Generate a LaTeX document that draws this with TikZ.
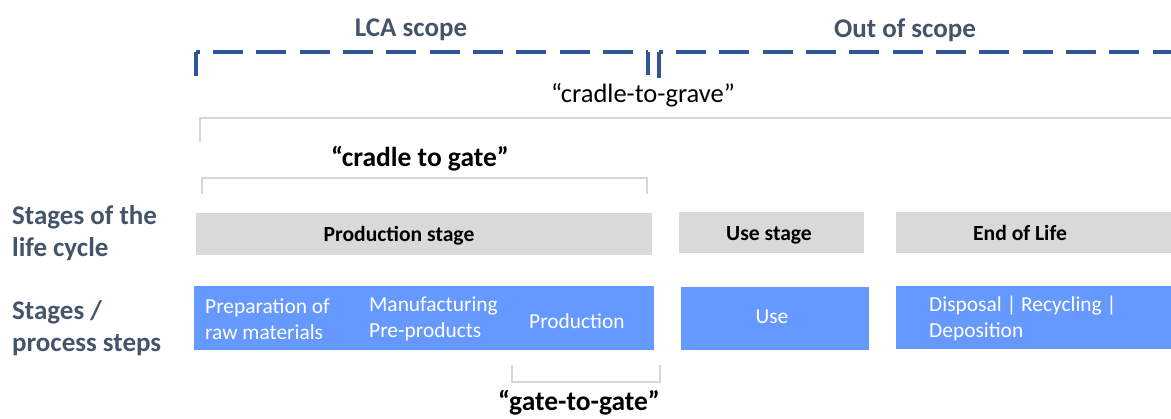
\documentclass[tikz,border=0pt]{standalone}
\usepackage{fontspec}
\setmainfont{Carlito}
\usetikzlibrary{positioning}
\definecolor{slate}{HTML}{44546A}
\definecolor{scopeblue}{HTML}{2F5597}
\definecolor{stagegray}{HTML}{D9D9D9}
\definecolor{stepblue}{HTML}{6699FF}
\definecolor{rangegray}{HTML}{D6D6D6}

\begin{document}
\begin{tikzpicture}
[
    x=1pt, y=-1pt,
    heading/.style={font=\fontsize{27}{30}\selectfont\bfseries, text=slate, inner sep=0pt},
    rowlabel/.style={font=\fontsize{27}{32}\selectfont\bfseries, text=slate, align=left, anchor=west, inner sep=0pt},
    stagebox/.style={fill=stagegray, anchor=north west, inner sep=0pt},
    stagetext/.style={font=\fontsize{21.6}{24}\selectfont\bfseries, inner sep=0pt},
    stepbox/.style={fill=stepblue, anchor=north west, inner sep=0pt},
    steptext/.style={text=white, font=\fontsize{21.4}{26}\selectfont, align=left, inner sep=0pt},
    scopeline/.style={draw=scopeblue, line width=3.5pt},
    scopedash/.style={scopeline, dash pattern=on 30pt off 13.33pt, dash phase=26.33pt},
    rangeline/.style={draw=rangegray, line width=1.3pt},
    quote/.style={font=\fontsize{26.5}{30}\selectfont, inner sep=0pt},
    boldquote/.style={font=\fontsize{27.5}{30}\selectfont\bfseries, inner sep=0pt},
]
\useasboundingbox (0,0) rectangle (1171,419);

\node [heading] (lca) at (411,30) {LCA scope};
\node [heading] (out) at (905,30) {Out of scope};

\coordinate (lcaA) at (196,76);
\coordinate (lcaB) at (196,52);
\coordinate (lcaC) at (648,52);
\coordinate (lcaD) at (648,75);
\draw [scopeline] (lcaA) -- (lcaB);
\draw [scopedash] (lcaB) -- (lcaC);
\draw [scopeline] (lcaC) -- (lcaD);

\coordinate (outA) at (659,78);
\coordinate (outB) at (659,52);
\coordinate (outC) at (1171,52);
\draw [scopeline] (outA) -- (outB);
\draw [scopedash] (outB) -- (outC);

\node [quote] (grave) at (643,95) {“cradle-to-grave”};
\coordinate (graveA) at (200,142);
\coordinate (graveB) at (200,118);
\coordinate (graveC) at (1171,118);
\draw [rangeline] (graveA) -- (graveB) -- (graveC);

\node [boldquote] (gate) at (420,159) {“cradle to gate”};
\coordinate (gateA) at (202,194);
\coordinate (gateB) at (202,178);
\coordinate (gateC) at (647,178);
\coordinate (gateD) at (647,194);
\draw [rangeline] (gateA) -- (gateB) -- (gateC) -- (gateD);

\node [rowlabel] (lifecycle) at (12,233) {Stages of the\\life cycle};
\node [rowlabel] (steps) at (12,328) {Stages /\\process steps};

\node [stagebox, minimum width=456pt, minimum height=42pt] (prodstage) at (196,213) {};
\node [stagetext] (prodlabel) at (399,236) {Production stage};
\node [stagebox, minimum width=185pt, minimum height=41pt] (usestage) at (679,212) {};
\node [stagetext] (uselabel) at (769,235) {Use stage};
\node [stagebox, minimum width=275pt, minimum height=41pt] (eolstage) at (896,212) {};
\node [stagetext] (eollabel) at (1020,233) {End of Life};

\node [stepbox, minimum width=460pt, minimum height=64pt] (prodsteps) at (194,286) {};
\node [steptext, anchor=west] (prep) at (205,319) {Preparation of\\raw materials};
\node [steptext, anchor=west] (manuf) at (369,319) {Manufacturing\\Pre-products};
\node [steptext, anchor=west] (prod) at (529,321) {Production};
\node [stepbox, minimum width=188pt, minimum height=63pt] (usesteps) at (681,287) {};
\node [steptext] (use) at (772,317) {Use};
\node [stepbox, minimum width=275pt, minimum height=63pt] (eolsteps) at (896,286) {};
\node [steptext, anchor=west] (disposal) at (929,318) {Disposal | Recycling |\\Deposition};

\coordinate (ggA) at (512,365);
\coordinate (ggB) at (512,382);
\coordinate (ggC) at (660,382);
\coordinate (ggD) at (660,365);
\draw [rangeline] (ggA) -- (ggB) -- (ggC) -- (ggD);
\node [boldquote, anchor=base] (gtg) at (579,411) {“gate-to-gate”};
\end{tikzpicture}
\end{document}
